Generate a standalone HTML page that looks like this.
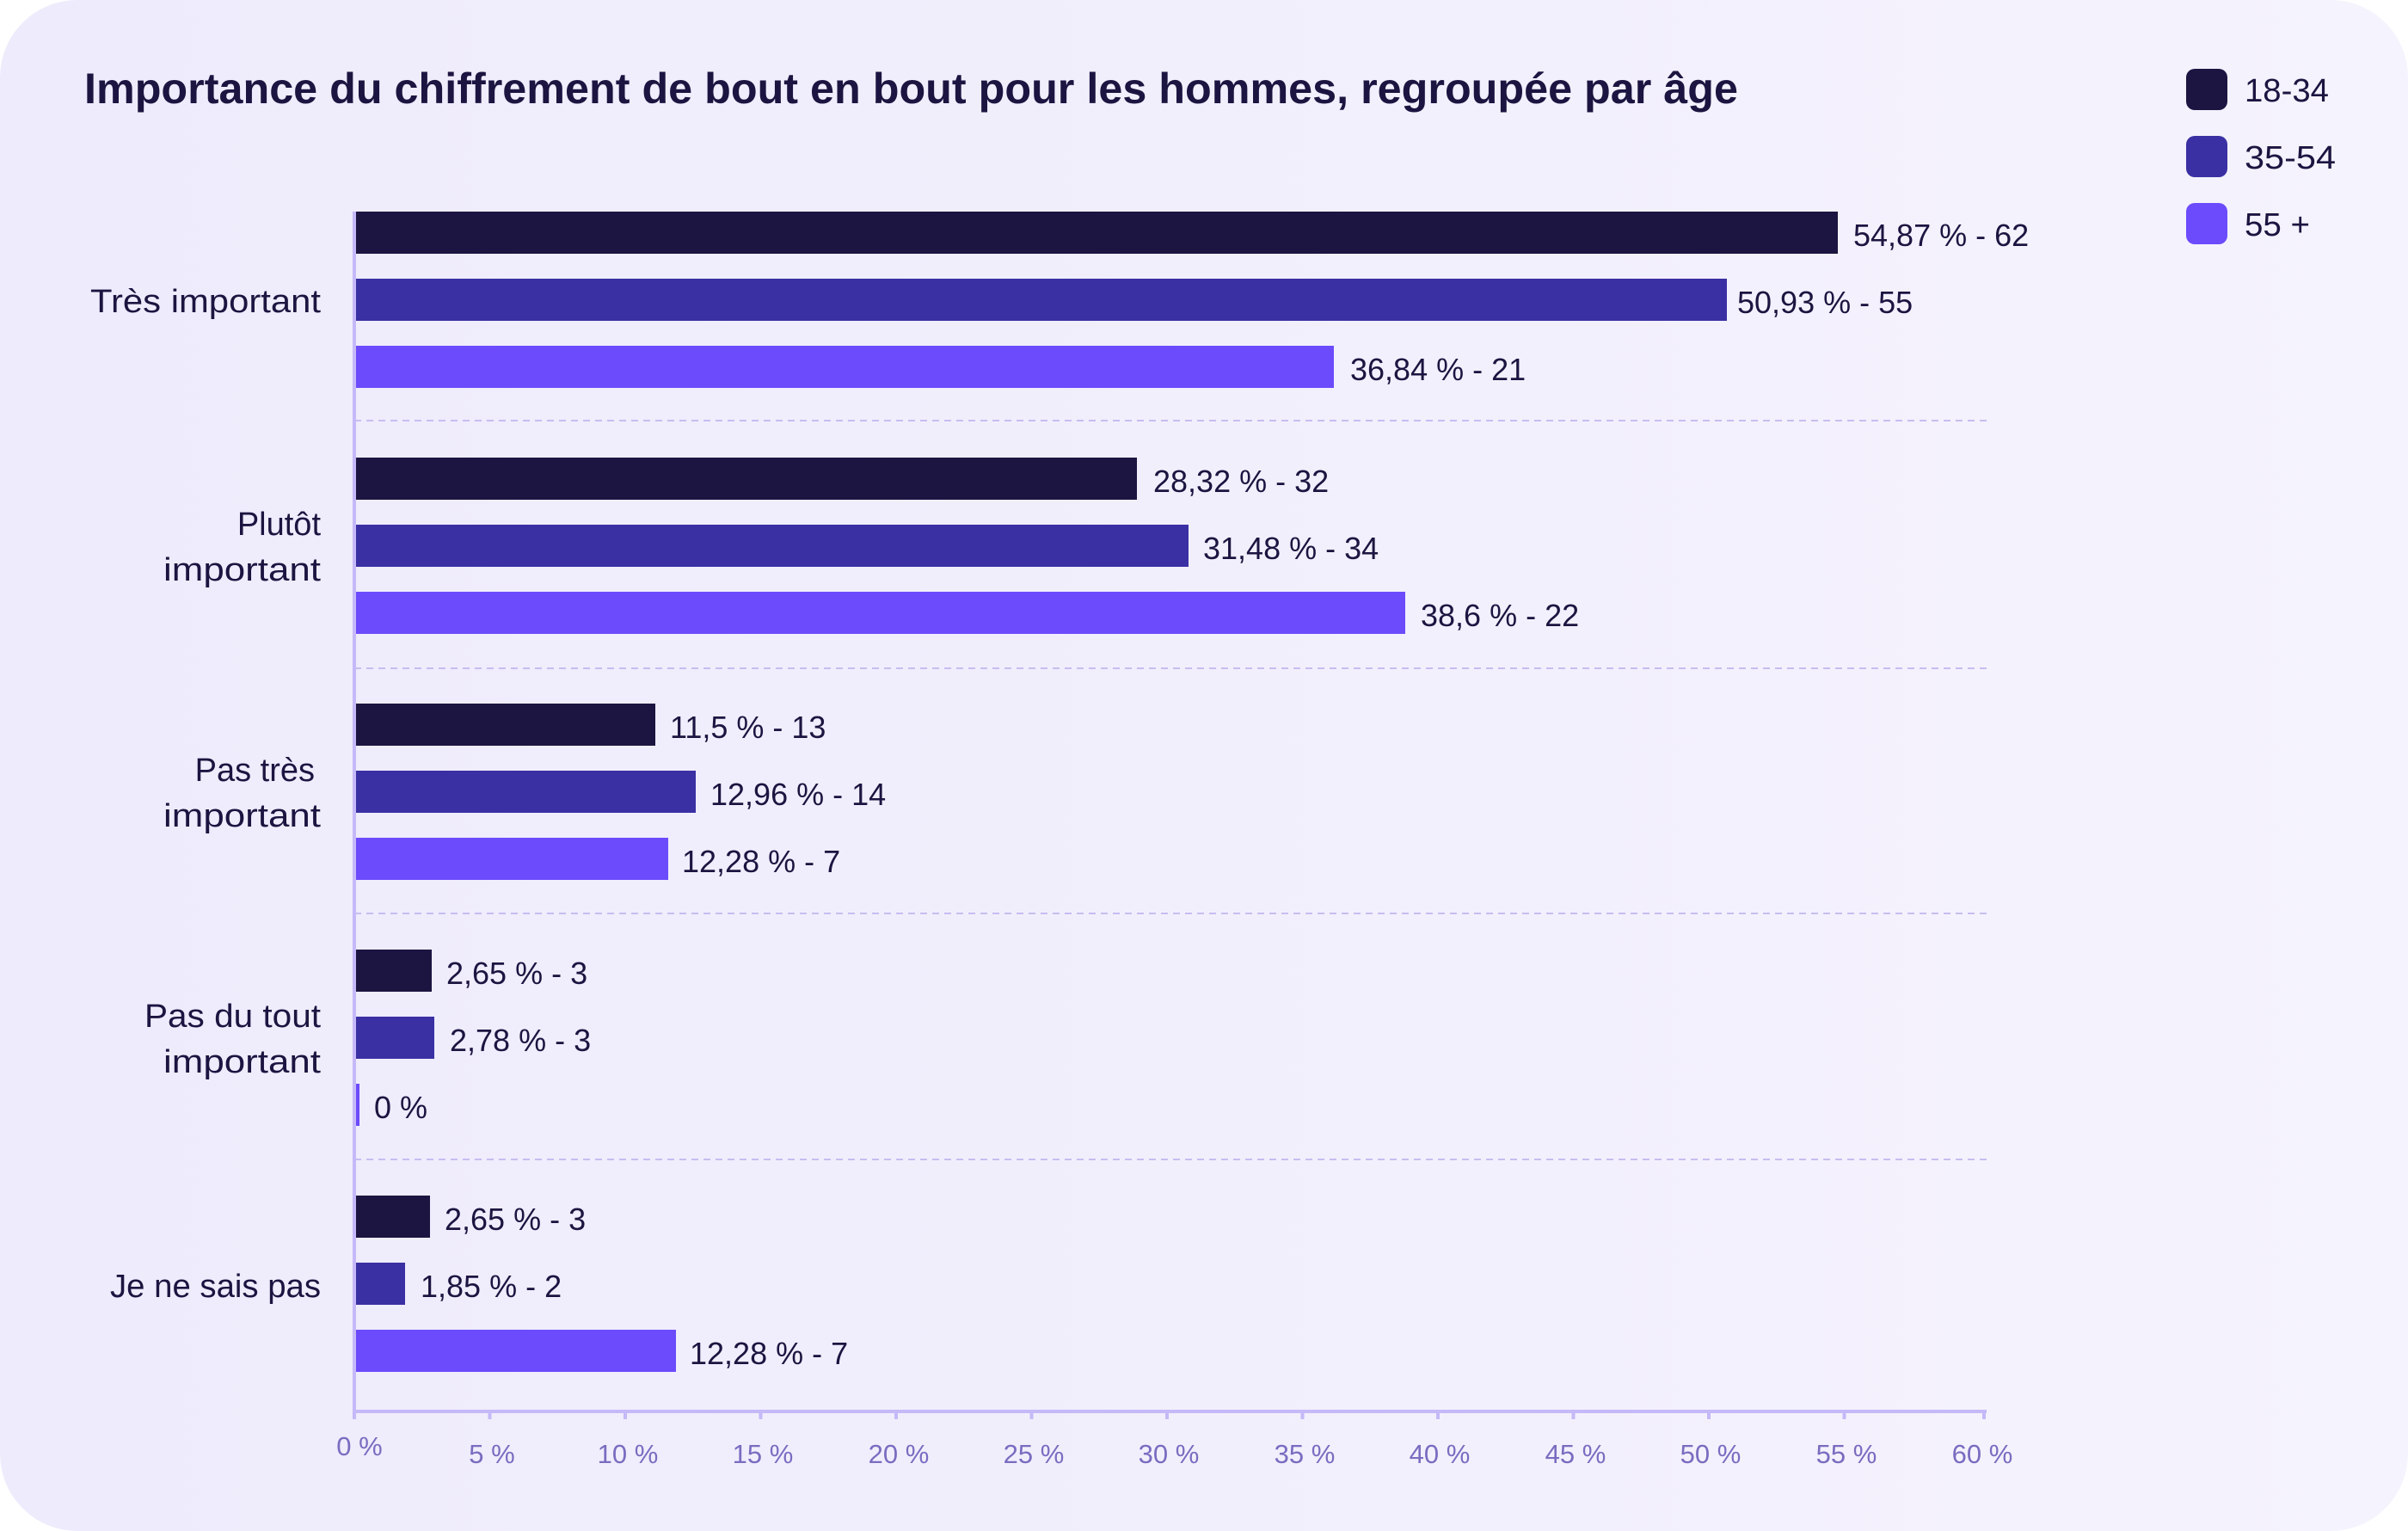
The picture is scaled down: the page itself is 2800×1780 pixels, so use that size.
<!DOCTYPE html>
<html><head><meta charset="utf-8"><style>
html,body{margin:0;padding:0;background:#fff;}
svg{display:block;font-family:"Liberation Sans",sans-serif;}
</style></head><body>
<svg width="2800" height="1780" viewBox="0 0 2800 1780" xmlns="http://www.w3.org/2000/svg">
<defs><linearGradient id="bg" x1="0" x2="1" y1="0" y2="0"><stop offset="0" stop-color="#eeebfc"/><stop offset="1" stop-color="#f5f3fd"/></linearGradient></defs>
<rect x="0" y="0" width="2800" height="1780" rx="90" fill="url(#bg)"/>
<text x="98" y="120" font-size="50" font-weight="bold" fill="#1c1541" textLength="1923" lengthAdjust="spacingAndGlyphs">Importance du chiffrement de bout en bout pour les hommes, regroupée par âge</text>
<g font-size="38" fill="#1c1541">
<rect x="2542" y="80" width="48" height="48" rx="10" fill="#1c1541"/><text x="2610" y="118" textLength="98" lengthAdjust="spacingAndGlyphs">18-34</text>
<rect x="2542" y="158" width="48" height="48" rx="10" fill="#3a30a3"/><text x="2610" y="196" textLength="106" lengthAdjust="spacingAndGlyphs">35-54</text>
<rect x="2542" y="236" width="48" height="48" rx="10" fill="#6c4bfc"/><text x="2610" y="274" textLength="76" lengthAdjust="spacingAndGlyphs">55 +</text>
</g>
<g stroke="#c8bdf0" stroke-width="2" stroke-dasharray="8,6">
<line x1="412" x2="2310" y1="489" y2="489"/><line x1="412" x2="2310" y1="777" y2="777"/><line x1="412" x2="2310" y1="1062" y2="1062"/><line x1="412" x2="2310" y1="1348" y2="1348"/>
</g>
<g font-size="38" fill="#1c1541" text-anchor="end">
<text x="373" y="363" textLength="268" lengthAdjust="spacingAndGlyphs">Très important</text>
<text x="373" y="622">Plutôt</text><text x="373" y="675" textLength="183" lengthAdjust="spacingAndGlyphs">important</text>
<text x="366" y="908">Pas très</text><text x="373" y="961" textLength="183" lengthAdjust="spacingAndGlyphs">important</text>
<text x="373" y="1194" textLength="205" lengthAdjust="spacingAndGlyphs">Pas du tout</text><text x="373" y="1247" textLength="183" lengthAdjust="spacingAndGlyphs">important</text>
<text x="373" y="1508" textLength="245" lengthAdjust="spacingAndGlyphs">Je ne sais pas</text>
</g>
<g font-size="36" fill="#1c1541">
<rect x="413" y="246" width="1724" height="49" fill="#1c1541"/><text x="2155" y="286">54,87 % - 62</text>
<rect x="413" y="324" width="1595" height="49" fill="#3a30a3"/><text x="2020" y="364">50,93 % - 55</text>
<rect x="413" y="402" width="1138" height="49" fill="#6c4bfc"/><text x="1570" y="442">36,84 % - 21</text>

<rect x="413" y="532" width="909" height="49" fill="#1c1541"/><text x="1341" y="572">28,32 % - 32</text>
<rect x="413" y="610" width="969" height="49" fill="#3a30a3"/><text x="1399" y="650">31,48 % - 34</text>
<rect x="413" y="688" width="1221" height="49" fill="#6c4bfc"/><text x="1652" y="728">38,6 % - 22</text>

<rect x="413" y="818" width="349" height="49" fill="#1c1541"/><text x="779" y="858">11,5 % - 13</text>
<rect x="413" y="896" width="396" height="49" fill="#3a30a3"/><text x="826" y="936">12,96 % - 14</text>
<rect x="413" y="974" width="364" height="49" fill="#6c4bfc"/><text x="793" y="1014">12,28 % - 7</text>

<rect x="413" y="1104" width="89" height="49" fill="#1c1541"/><text x="519" y="1144">2,65 % - 3</text>
<rect x="413" y="1182" width="92" height="49" fill="#3a30a3"/><text x="523" y="1222">2,78 % - 3</text>
<rect x="413" y="1260" width="5" height="49" fill="#6c4bfc"/><text x="435" y="1300">0 %</text>

<rect x="413" y="1390" width="87" height="49" fill="#1c1541"/><text x="517" y="1430">2,65 % - 3</text>
<rect x="413" y="1468" width="58" height="49" fill="#3a30a3"/><text x="489" y="1508">1,85 % - 2</text>
<rect x="413" y="1546" width="373" height="49" fill="#6c4bfc"/><text x="802" y="1586">12,28 % - 7</text>
</g>
<g stroke="#c5b9f8" stroke-width="4">
<line x1="412" x2="412" y1="246" y2="1650"/>
<line x1="410" x2="2310" y1="1641" y2="1641"/>
<line x1="569.5" x2="569.5" y1="1641" y2="1650"/><line x1="727" x2="727" y1="1641" y2="1650"/><line x1="884.5" x2="884.5" y1="1641" y2="1650"/><line x1="1042" x2="1042" y1="1641" y2="1650"/><line x1="1199.5" x2="1199.5" y1="1641" y2="1650"/><line x1="1357" x2="1357" y1="1641" y2="1650"/><line x1="1514.5" x2="1514.5" y1="1641" y2="1650"/><line x1="1672" x2="1672" y1="1641" y2="1650"/><line x1="1829.5" x2="1829.5" y1="1641" y2="1650"/><line x1="1987" x2="1987" y1="1641" y2="1650"/><line x1="2144.5" x2="2144.5" y1="1641" y2="1650"/><line x1="2307" x2="2307" y1="1641" y2="1650"/>
</g>
<g font-size="31" fill="#7a6cc0" text-anchor="middle">
<text x="418" y="1692">0 %</text><text x="572" y="1701">5 %</text><text x="730" y="1701">10 %</text><text x="887" y="1701">15 %</text><text x="1045" y="1701">20 %</text><text x="1202" y="1701">25 %</text><text x="1359" y="1701">30 %</text><text x="1517" y="1701">35 %</text><text x="1674" y="1701">40 %</text><text x="1832" y="1701">45 %</text><text x="1989" y="1701">50 %</text><text x="2147" y="1701">55 %</text><text x="2305" y="1701">60 %</text>
</g>
</svg>
</body></html>
